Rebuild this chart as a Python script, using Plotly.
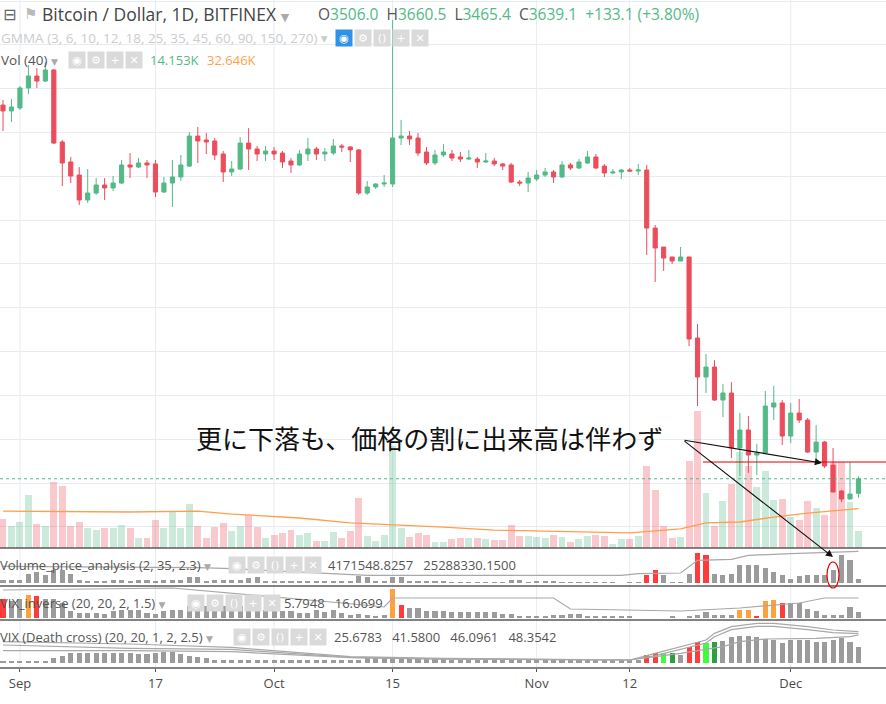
import pandas as pd
import plotly.graph_objects as go

# ---------------- data ----------------
start = "2018-08-30"
dates = pd.date_range(start, periods=102, freq="D")

open_ = [7051,6997,7024,7207,7316,7270,7371,6714,6531,6412,
         6184,6248,6321,6294,6339,6504,6485,6522,6513,6257,
         6339,6394,6494,6768,6732,6723,6604,6440,6467,6704,
         6650,6604,6631,6613,6540,6504,6604,6650,6604,6613,
         6677,6668,6641,6248,6303,6330,6330,6750,6768,6750,
         6622,6522,6595,6604,6577,6558,6558,6531,6540,6513,
         6504,6348,6339,6376,6412,6440,6394,6504,6476,6522,
         6577,6494,6431,6440,6458,6449,6458,5928,5755,5664,
         5627,5664,4924,4568,4659,4358,4422,3920,4084,3856,
         3874,4294,4331,4029,4239,4175,3883,3974,3764,3527,
         3454,3506.0]
high = [7097,7106,7225,7417,7389,7444,7380,6732,6577,6485,
        6467,6385,6385,6403,6549,6613,6567,6549,6549,6394,
        6549,6595,6805,6851,6796,6750,6631,6540,6759,6841,
        6677,6677,6668,6631,6567,6641,6750,6668,6659,6741,
        6695,6677,6650,6357,6339,6412,7827,6914,6814,6796,
        6668,6641,6695,6641,6622,6641,6577,6613,6567,6522,
        6522,6367,6440,6458,6476,6458,6540,6522,6558,6631,
        6604,6513,6467,6467,6476,6513,6504,5956,5755,5664,
        5755,5664,5052,4778,4723,4504,4522,4239,4212,3956,
        4440,4486,4358,4331,4367,4194,4130,3984,3920,3536,
        3792,3660.5]
low = [6814,6896,7006,7152,7207,7261,6695,6312,6339,6138,
       6157,6230,6184,6266,6330,6385,6476,6385,6211,6248,
       6120,6357,6485,6522,6604,6549,6348,6403,6458,6458,
       6540,6540,6549,6476,6431,6494,6540,6549,6540,6595,
       6622,6531,6230,6230,6284,6303,6303,6686,6686,6586,
       6504,6504,6577,6540,6531,6549,6476,6522,6494,6458,
       6339,6312,6257,6357,6394,6339,6385,6458,6467,6513,
       6467,6394,6421,6376,6440,6412,5682,5435,5536,5600,
       5627,4851,4303,4422,4349,4203,3828,3664,3692,3673,
       3874,4175,3947,3965,4148,3874,3810,3737,3518,3427,
       3454,3465.4]
close = [6997,7033,7207,7316,7270,7371,6704,6522,6403,6184,
         6248,6321,6294,6339,6504,6485,6522,6504,6257,6339,
         6394,6504,6768,6723,6714,6595,6440,6467,6704,6650,
         6604,6631,6604,6531,6504,6604,6650,6604,6622,6677,
         6668,6641,6248,6303,6330,6339,6750,6768,6741,6613,
         6522,6595,6622,6567,6558,6567,6531,6540,6513,6494,
         6348,6339,6385,6412,6440,6394,6504,6476,6531,6577,
         6476,6431,6440,6458,6449,6458,5928,5746,5654,5627,
         5664,4915,4568,4659,4358,4422,3920,4084,3856,3874,
         4303,4331,4029,4239,4175,3883,3974,3755,3518,3454,
         3500,3639.1]
volume_k = [24.1,18.3,21.6,44.0,19.9,18.3,54.8,51.5,18.3,21.6,
            16.6,14.9,16.6,16.6,19.1,16.6,8.3,8.3,23.2,16.6,
            29.9,16.6,36.5,18.3,8.3,17.4,20.8,14.1,18.3,27.4,
            17.4,8.3,10.8,12.5,14.9,10.8,12.5,5.8,5.8,13.3,
            8.3,14.1,41.5,10.0,5.8,10.8,84.7,16.6,9.1,12.5,
            10.8,5.0,5.0,7.5,8.3,8.3,8.3,7.5,6.6,6.6,
            19.1,10.0,10.0,9.1,8.3,10.8,9.1,5.0,7.5,10.0,
            10.8,10.0,3.3,7.5,7.5,10.0,68.1,48.1,18.3,8.3,
            9.1,72.2,113.7,45.7,18.3,39.0,53.1,79.7,68.1,50.6,
            63.9,39.8,40.7,25.7,23.2,39.0,33.2,27.4,71.4,71.4,
            38.2,14.153]
vol_ma_dates = ["2018-08-30","2018-09-14","2018-09-22","2018-09-26","2018-10-04","2018-10-10",
                "2018-10-21","2018-10-27","2018-11-12","2018-11-18","2018-11-21","2018-11-25",
                "2018-11-29","2018-12-03","2018-12-09"]
vol_ma = [30.7,29.9,30.7,28.2,24.9,20.8,17.4,14.9,12.5,15.8,20.8,21.6,25.7,29.0,32.646]

vpa = [3.3,3.3,3.3,9.3,10.7,8.3,13.3,13.3,9.3,3.3,
       2,2,2,3.3,3.3,2,3.3,3.3,2,3.3,
       3.3,3.3,6,6,1.3,3.3,3.3,3.3,3.3,5.3,
       6,2,2,2,2,2,2,2,2,2,
       2,2,6.7,6,2,2,6,6,2,2,
       2,2,2,1,1,1,1,1,1,1,
       3.3,3.3,1,2,2,2,1,1,1,1,
       1,1,1,0,1,1,7.7,12.7,7.7,1,
       1,8.7,30.3,28.3,8.7,7.7,9.3,18.3,18.3,18.3,
       15,11,7.7,4.3,6.7,7.7,7.7,7.7,12.7,27.7,
       22.7,4.3]
vpa_red = [76,77,82,83]
vpa_line_dates = ["2018-08-30","2018-09-22","2018-09-26","2018-10-04","2018-10-08","2018-10-12",
                  "2018-11-11","2018-11-13","2018-11-18","2018-11-20","2018-11-24","2018-11-26",
                  "2018-12-01","2018-12-07","2018-12-09"]
vpa_line = [16.7,15.3,14.3,11,8.7,7.7,7.7,9.3,10,22.7,23.7,27.7,29.3,31,31.7]

vixi = [19,16.7,19,23.3,22.3,19,19,15,6.7,5,
        5,5,4.3,6.7,8.3,7.7,8.3,5,4.3,6.7,
        8.3,8.3,11.7,11.7,11.7,10,11.7,11.7,11.7,11.7,
        11.7,8.3,8.3,6.7,6.7,5,5,7.7,5.7,8.3,
        5,3.3,4.3,3.3,2.3,3.3,29,12.7,10,10,
        6.7,6.7,6.7,6.3,5.7,5.7,5.7,6.3,5.7,4,
        4,1.7,1.7,1.7,1.7,3,3,4,4,2.3,
        2.3,2.3,2.3,2.3,2.3,0,0,0,0,1.7,
        0,1.7,3.3,5.7,3.3,3.3,3.3,8,8,1.7,
        16.7,18,14.7,14.7,14.7,9,7.3,3.3,3.3,3.3,
        10.7,6.3]
vixi_col = {0:"r",3:"o",4:"r",46:"o",47:"r",87:"o",88:"o",89:"r",90:"o",91:"o",92:"r"}
vixi_line_dates = ["2018-08-30","2018-09-19","2018-10-09","2018-10-14","2018-10-15","2018-11-03",
                   "2018-11-05","2018-11-18","2018-11-25","2018-12-02","2018-12-05","2018-12-09"]
vixi_line = [28,30,15,11,20,20,9,7,10,15,20,20]

vixd = [1,1,1,1,1,1,4.3,6.7,9.3,9.3,
        9.3,9.3,9.3,9.3,9.3,9.3,8.3,8.3,10,10.7,
        10.7,8.3,6.7,6,4.3,2.7,2.7,2.7,2.7,2.7,
        2.7,2.7,2.7,2.7,2.7,2.7,2.7,2.7,2.7,2.7,
        2.7,2.7,2.7,4.3,4.3,4.3,4.3,4.3,4.3,4.3,
        4.3,4.3,4.3,2.7,2.7,2.7,2.7,2.7,2.7,2.7,
        3.7,3.7,3.7,2.7,2.7,3.7,3.7,2.7,2.7,2.7,
        2.7,2.7,2.7,2.7,2.7,2.7,7.7,9.3,9.3,9.3,
        7.7,15.3,21,20,21,22,26,26.3,26.3,25.3,
        23.3,22.7,20,22.7,22.7,22.7,21,21,22.7,24.3,
        20.3,15.3]
vixd_col = {76:"r",77:"r",78:"l",79:"d",81:"r",82:"r",83:"l",84:"d"}
vixd_a_dates = ["2018-08-30","2018-09-14","2018-09-26","2018-10-04","2018-10-10","2018-10-21","2018-11-12",
                "2018-11-15","2018-11-18","2018-11-21","2018-11-22","2018-11-24","2018-11-27","2018-11-29",
                "2018-12-03","2018-12-06","2018-12-09"]
vixd_a = [21,18.7,15.3,10,6,4.3,2.7,9.3,16,22.7,29.3,36,39.3,39.3,36,32.7,31]
vixd_b = [17.7,14.3,13.3,8.7,5.3,3.7,2.7,7,13,19.7,26,33,36.3,36.3,33,30,29]
vixd_c_dates = ["2018-08-30","2018-09-14","2018-09-26","2018-10-04","2018-10-10","2018-10-21","2018-11-12",
                "2018-11-15","2018-11-18","2018-11-23","2018-11-25","2018-11-28","2018-12-04","2018-12-08","2018-12-09"]
vixd_c = [12,12,11,8,5,3.5,2.7,6,9.3,16,21,23.7,24.3,26,27.7]

tick_dates = ["2018-09-01","2018-09-17","2018-10-01","2018-10-15","2018-11-01","2018-11-12","2018-12-01"]
tick_text = ["Sep","17","Oct","15","Nov","12","Dec"]
resist_price = 3792

# ---------------- style ----------------
W, H = 886, 704
UP, DN = "#53b987", "#eb4d5c"
PAL = {"g": "#9b9b9b", "r": "#ff3b3b", "o": "#ffa23e", "l": "#3dff3d", "d": "#2f9e3f"}
def px(x): return x / W
def py(y): return 1 - y / H

fig = go.Figure()
vcol = ["rgba(83,185,135,0.3)" if c >= o else "rgba(235,77,92,0.3)" for o, c in zip(open_, close)]
fig.add_trace(go.Bar(x=dates, y=volume_k, marker_color=vcol, marker_line_width=0,
                     width=0.82 * 86400000, yaxis="y2", xaxis="x"))
fig.add_trace(go.Scatter(x=pd.to_datetime(vol_ma_dates), y=vol_ma, mode="lines",
                         line=dict(color="#ff9f4a", width=1.3), yaxis="y2"))
fig.add_trace(go.Candlestick(x=dates, open=open_, high=high, low=low, close=close,
                             increasing=dict(line=dict(color=UP, width=1), fillcolor=UP),
                             decreasing=dict(line=dict(color=DN, width=1), fillcolor=DN),
                             whiskerwidth=0, yaxis="y"))

def panel(vals, colmap, yax):
    cols = [PAL[colmap.get(i, "g")] for i in range(len(vals))]
    fig.add_trace(go.Bar(x=dates, y=vals, marker_color=cols, marker_line_width=0,
                         width=0.6 * 86400000, yaxis=yax))

panel(vpa, {i: "r" for i in vpa_red}, "y3")
fig.add_trace(go.Scatter(x=pd.to_datetime(vpa_line_dates), y=vpa_line, mode="lines",
                         line=dict(color="#a8a8a8", width=1.2), yaxis="y3"))
panel(vixi, vixi_col, "y4")
fig.add_trace(go.Scatter(x=pd.to_datetime(vixi_line_dates), y=vixi_line, mode="lines",
                         line=dict(color="#a8a8a8", width=1.2), yaxis="y4"))
panel(vixd, vixd_col, "y5")
for d, v in [(vixd_a_dates, vixd_a), (vixd_a_dates, vixd_b), (vixd_c_dates, vixd_c)]:
    fig.add_trace(go.Scatter(x=pd.to_datetime(d), y=v, mode="lines",
                             line=dict(color="#a8a8a8", width=1.2), yaxis="y5"))

x0 = pd.Timestamp(start) - pd.Timedelta(hours=8.5)
x1 = pd.Timestamp(start) + pd.Timedelta(hours=104.25 * 24)

hid = dict(showticklabels=False, zeroline=False, fixedrange=True)
fig.update_layout(
    width=W, height=H, margin=dict(l=0, r=0, t=0, b=0),
    paper_bgcolor="white", plot_bgcolor="white", showlegend=False, bargap=0,
    font=dict(family="Open Sans, DejaVu Sans", color="#555"),
    xaxis=dict(range=[x0, x1], type="date", anchor="y5", showgrid=False,
               tickvals=pd.to_datetime(tick_dates), ticktext=tick_text,
               ticks="outside", ticklen=3, tickcolor="#555",
               tickfont=dict(size=13, color="#4a4a4a"), rangeslider=dict(visible=False)),
    yaxis=dict(domain=[py(548), 1], range=[3007, 8010], tick0=3600, dtick=400,
               showgrid=True, gridcolor="#e6ecf2", **hid),
    yaxis2=dict(domain=[py(548), 1], range=[0, 455], overlaying="y", showgrid=False, **hid),
    yaxis3=dict(domain=[py(586), py(548)], range=[-3, 35], showgrid=False, **hid),
    yaxis4=dict(domain=[py(620), py(586)], range=[-2, 32], showgrid=False, **hid),
    yaxis5=dict(domain=[py(668), py(620)], range=[-5.3, 42.7], showgrid=False, **hid),
)

shapes = []
for d in tick_dates:
    shapes.append(dict(type="line", xref="x", yref="paper", x0=d, x1=d, y0=py(668), y1=1,
                       line=dict(color="#e6ecf2", width=1), layer="below"))
for y in [548, 586, 620, 668]:
    shapes.append(dict(type="line", xref="paper", yref="paper", x0=0, x1=1, y0=py(y), y1=py(y),
                       line=dict(color="#5a5a5a", width=1.5)))
shapes.append(dict(type="line", xref="paper", yref="y", x0=0, x1=1, y0=close[-1], y1=close[-1],
                   line=dict(color=UP, width=1, dash="dot")))
shapes.append(dict(type="line", xref="paper", yref="y", x0=px(703), x1=1, y0=resist_price, y1=resist_price,
                   line=dict(color="#e00000", width=1)))
shapes.append(dict(type="circle", xref="paper", yref="paper", x0=px(827), x1=px(839),
                   y0=py(588), y1=py(562), line=dict(color="#e00000", width=1.2)))
fig.update_layout(shapes=shapes)

ann = []
def txt(x, y, t, size=13, color="#555", anchor="left", fam="Open Sans, DejaVu Sans"):
    ann.append(dict(xref="paper", yref="paper", x=px(x), y=py(y), text=t, showarrow=False,
                    xanchor=anchor, yanchor="middle", font=dict(size=size, color=color, family=fam)))

def icons(x, y, glyphs, first_blue=False):
    for i, g in enumerate(glyphs):
        bg = "#2e93e6" if (first_blue and i == 0) else "#dadada"
        ann.append(dict(xref="paper", yref="paper", x=px(x + i * 19), y=py(y), text=g, showarrow=False,
                        xanchor="left", yanchor="middle", width=14, height=14, bgcolor=bg,
                        font=dict(size=11, color="white", family="DejaVu Sans")))

G, OR = UP, "#ff9f4a"
txt(1, 14, "⊟", 16, "#666", fam="DejaVu Sans")
txt(22, 14, "⚑", 15, "#bbb", fam="DejaVu Sans")
txt(40, 14, "Bitcoin / Dollar, 1D, BITFINEX <span style='color:#aaa;font-size:11px'>▼</span>", 17.5, "#444")
hdr = ("O<span style='color:%s'>3506.0</span>  H<span style='color:%s'>3660.5</span>  "
       "L<span style='color:%s'>3465.4</span>  C<span style='color:%s'>3639.1</span>  "
       "<span style='color:%s'>+133.1 (+3.80%%)</span>") % (G, G, G, G, G)
txt(316, 14, hdr, 15.5, "#555")
txt(-1, 38, "GMMA (3, 6, 10, 12, 18, 25, 35, 45, 60, 90, 150, 270) ▾", 13.5, "#cccccc")
icons(335, 38, ["◉", "⚙", "()", "+", "✕"], first_blue=True)
txt(-1, 60, "Vol (40) <span style='color:#aaa;font-size:9px'>▼</span>", 13.5, "#555")
icons(68, 60, ["◉", "⚙", "+", "✕"])
txt(148, 60, "14.153K", 13, G)
txt(205, 60, "32.646K", 13, OR)

txt(-2, 565, "Volume_price_analysis (2, 35, 2.3) <span style='color:#aaa;font-size:9px'>▼</span>", 13, "#555")
icons(228, 565, ["◉", "⚙", "()", "+", "✕"])
txt(326, 565, "4171548.8257   25288330.1500", 13, "#555")
txt(-2, 603, "VIX_inverse (20, 20, 2, 1.5) <span style='color:#aaa;font-size:9px'>▼</span>", 13, "#555")
icons(187, 603, ["◉", "⚙", "()", "+", "✕"])
txt(282, 603, "5.7948   16.0699", 13, "#555")
txt(-2, 637, "VIX (Death cross) (20, 20, 1, 2, 2.5) <span style='color:#aaa;font-size:9px'>▼</span>", 13, "#555")
icons(233, 637, ["◉", "⚙", "()", "+", "✕"])
txt(332, 637, "25.6783   41.5800   46.0961   48.3542", 13, "#555")

txt(194, 437, "更に下落も、価格の割に出来高は伴わず", 26, "#111", fam="Noto Sans CJK JP")

for (tx, ty) in [(822, 463), (833, 557)]:
    ann.append(dict(xref="paper", yref="paper", axref="pixel", ayref="pixel",
                    x=px(tx), y=py(ty), ax=683 - tx, ay=440 - ty, text="", showarrow=True,
                    arrowhead=2, arrowsize=1.3, arrowwidth=1.1, arrowcolor="#111"))
fig.update_layout(annotations=ann)

fig.write_html("out.html", config={"displayModeBar": False},
               post_script="document.body.style.margin='0';document.body.style.overflow='hidden';")
